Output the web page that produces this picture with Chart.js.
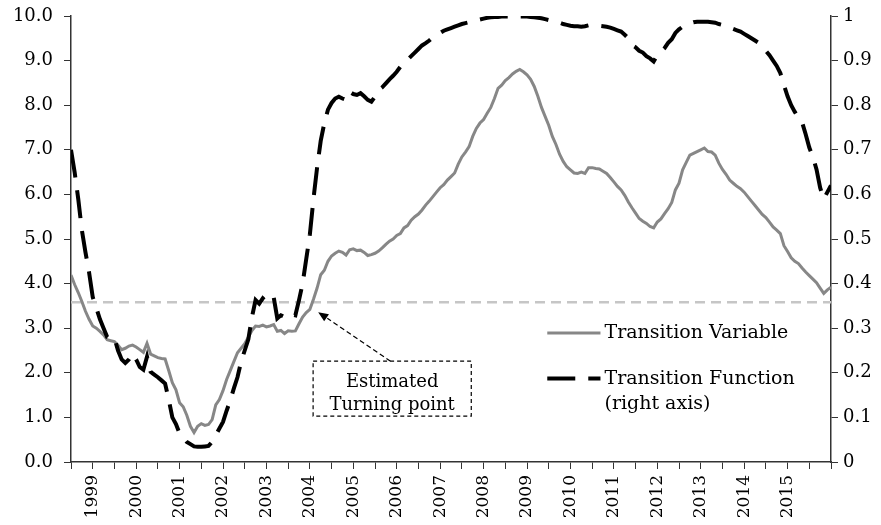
<!DOCTYPE html>
<html>
<head>
<meta charset="utf-8">
<script src="https://cdn.jsdelivr.net/npm/chart.js@4.4.1/dist/chart.umd.min.js"></script>
<style>
  html, body { margin: 0; padding: 0; background: #fff; }
  canvas { display: block; }
</style>
</head>
<body>
<canvas id="chart" width="881" height="525"></canvas>
<script>
// monthly observations, index 0 = mid-1998, last = end of 2015
const transitionVariable = [
  4.19, 3.98, 3.80, 3.60, 3.38, 3.20, 3.05, 3.00, 2.93, 2.85, 2.74, 2.72,
  2.70, 2.62, 2.52, 2.55, 2.60, 2.62, 2.58, 2.52, 2.46, 2.66, 2.42, 2.38,
  2.34, 2.32, 2.31, 2.05, 1.78, 1.62, 1.33, 1.24, 1.05, 0.80, 0.66, 0.80,
  0.86, 0.82, 0.84, 0.95, 1.28, 1.40, 1.60, 1.85, 2.05, 2.25, 2.45, 2.55,
  2.65, 2.80, 2.95, 3.05, 3.04, 3.07, 3.03, 3.05, 3.08, 2.93, 2.95, 2.88,
  2.94, 2.93, 2.94, 3.10, 3.25, 3.35, 3.42, 3.65, 3.90, 4.20, 4.30, 4.50,
  4.62, 4.68, 4.73, 4.70, 4.64, 4.76, 4.78, 4.74, 4.75, 4.70, 4.63, 4.65,
  4.68, 4.73, 4.80, 4.88, 4.95, 5.00, 5.08, 5.12, 5.25, 5.30, 5.42, 5.50,
  5.56, 5.65, 5.76, 5.85, 5.95, 6.05, 6.15, 6.22, 6.32, 6.40, 6.48, 6.68,
  6.84, 6.95, 7.07, 7.30, 7.48, 7.60, 7.68, 7.82, 7.95, 8.15, 8.38, 8.45,
  8.55, 8.62, 8.70, 8.76, 8.80, 8.75, 8.68, 8.58, 8.42, 8.20, 7.95, 7.75,
  7.55, 7.30, 7.12, 6.90, 6.74, 6.62, 6.55, 6.48, 6.47, 6.50, 6.47, 6.60,
  6.60, 6.58, 6.57, 6.52, 6.47, 6.38, 6.28, 6.18, 6.10, 5.98, 5.83, 5.70,
  5.58, 5.46, 5.40, 5.35, 5.28, 5.25, 5.38, 5.45, 5.57, 5.68, 5.82, 6.10,
  6.25, 6.55, 6.72, 6.88, 6.92, 6.96, 7.00, 7.04, 6.96, 6.95, 6.88, 6.70,
  6.56, 6.45, 6.32, 6.25, 6.18, 6.13, 6.05, 5.95, 5.85, 5.75, 5.65, 5.55,
  5.48, 5.38, 5.27, 5.20, 5.12, 4.85, 4.72, 4.58, 4.50, 4.45, 4.35, 4.26,
  4.18, 4.10, 4.02, 3.90, 3.78, 3.86, 3.92
];

const transitionFunction = [
  0.700, 0.650, 0.590, 0.520, 0.470, 0.425, 0.370, 0.345, 0.320, 0.300, 0.280, 0.275,
  0.278, 0.250, 0.230, 0.222, 0.230, 0.243, 0.230, 0.213, 0.207, 0.236, 0.202, 0.196,
  0.190, 0.183, 0.176, 0.140, 0.100, 0.085, 0.064, 0.055, 0.045, 0.040, 0.035, 0.034,
  0.034, 0.035, 0.036, 0.045, 0.060, 0.075, 0.090, 0.115, 0.138, 0.165, 0.190, 0.225,
  0.250, 0.275, 0.325, 0.363, 0.355, 0.367, 0.359, 0.362, 0.370, 0.322, 0.329, 0.325,
  0.333, 0.331, 0.329, 0.363, 0.400, 0.455, 0.510, 0.590, 0.660, 0.720, 0.760, 0.790,
  0.805, 0.815, 0.819, 0.815, 0.812, 0.830, 0.825, 0.823, 0.827, 0.820, 0.812, 0.808,
  0.819, 0.834, 0.840, 0.849, 0.858, 0.866, 0.875, 0.886, 0.894, 0.902, 0.910, 0.918,
  0.926, 0.934, 0.939, 0.945, 0.952, 0.957, 0.962, 0.967, 0.970, 0.973, 0.976, 0.979,
  0.982, 0.984, 0.986, 0.988, 0.990, 0.992, 0.994, 0.996, 0.997, 0.998, 0.998, 0.999,
  0.999, 0.999, 0.999, 0.999, 0.999, 0.999, 0.999, 0.998, 0.997, 0.996, 0.995, 0.993,
  0.991, 0.989, 0.987, 0.985, 0.982, 0.980, 0.978, 0.977, 0.977, 0.976, 0.977, 0.979,
  0.980, 0.979, 0.978, 0.977, 0.976, 0.974, 0.971, 0.968, 0.965, 0.958, 0.950, 0.935,
  0.930, 0.922, 0.918, 0.910, 0.905, 0.898, 0.912, 0.920, 0.928, 0.940, 0.948, 0.962,
  0.970, 0.976, 0.980, 0.983, 0.986, 0.987, 0.987, 0.987, 0.987, 0.986, 0.985, 0.982,
  0.980, 0.976, 0.974, 0.971, 0.968, 0.965, 0.960, 0.955, 0.950, 0.945, 0.940, 0.932,
  0.922, 0.912, 0.900, 0.888, 0.872, 0.845, 0.820, 0.800, 0.785, 0.772, 0.762, 0.735,
  0.705, 0.684, 0.656, 0.615, 0.590, 0.605, 0.620
];

const yearLabels = ['1999', '2000', '2001', '2002', '2003', '2004', '2005', '2006',
  '2007', '2008', '2009', '2010', '2011', '2012', '2013', '2014', '2015'];

const threshold = 3.58;

const FONT = 'DejaVu Serif';

function toPoints(arr) {
  return arr.map(function(v, i) { return { x: i, y: v }; });
}

// drop the label overhang padding so layout.padding decides the plot box
function noOverhang(s) {
  s.paddingTop = 0; s.paddingBottom = 0;
  s.paddingLeft = 0; s.paddingRight = 0;
}

const lastMonth = transitionVariable.length - 1;

// annotation + legend drawn on top of the plot
const notesPlugin = {
  id: 'notes',
  afterDatasetsDraw(chart) {
    const ctx = chart.ctx;
    const x = chart.scales.x, y = chart.scales.y;
    ctx.save();

    // dashed box with text
    const bx0 = x.getPixelForValue(66.9), bx1 = x.getPixelForValue(110.6);
    const by0 = y.getPixelForValue(2.26), by1 = y.getPixelForValue(1.03);
    ctx.strokeStyle = '#000';
    ctx.lineWidth = 1.2;
    ctx.setLineDash([4, 3]);
    ctx.strokeRect(bx0, by0, bx1 - bx0, by1 - by0);

    ctx.fillStyle = '#000';
    ctx.font = '18px "' + FONT + '"';
    ctx.textAlign = 'center';
    ctx.textBaseline = 'middle';
    const cx = (bx0 + bx1) / 2;
    ctx.fillText('Estimated', cx, by0 + 21);
    ctx.fillText('Turning point', cx, by0 + 44);

    // dashed arrow towards the turning point
    const tx = x.getPixelForValue(68.3), ty = y.getPixelForValue(3.36);
    const sx = x.getPixelForValue(88.3), sy = by0;
    const ang = Math.atan2(ty - sy, tx - sx);
    const headLen = 11;
    ctx.setLineDash([5, 3]);
    ctx.beginPath();
    ctx.moveTo(sx, sy);
    ctx.lineTo(tx - Math.cos(ang) * headLen, ty - Math.sin(ang) * headLen);
    ctx.stroke();
    ctx.setLineDash([]);
    ctx.beginPath();
    ctx.moveTo(tx, ty);
    ctx.lineTo(tx - headLen * Math.cos(ang - 0.4), ty - headLen * Math.sin(ang - 0.4));
    ctx.lineTo(tx - headLen * Math.cos(ang + 0.4), ty - headLen * Math.sin(ang + 0.4));
    ctx.closePath();
    ctx.fill();

    // legend
    const lx0 = x.getPixelForValue(131.6), lx1 = x.getPixelForValue(146.3);
    const ly1 = y.getPixelForValue(2.89), ly2 = y.getPixelForValue(1.87);
    ctx.font = '19px "' + FONT + '"';
    ctx.textAlign = 'left';
    ctx.lineCap = 'butt';

    ctx.strokeStyle = '#878787';
    ctx.lineWidth = 3;
    ctx.beginPath();
    ctx.moveTo(lx0, ly1); ctx.lineTo(lx1, ly1);
    ctx.stroke();
    ctx.fillText('Transition Variable', lx1 + 4, ly1);

    ctx.strokeStyle = '#000';
    ctx.lineWidth = 4;
    ctx.setLineDash([28, 13]);
    ctx.beginPath();
    ctx.moveTo(lx0, ly2); ctx.lineTo(lx1, ly2);
    ctx.stroke();
    ctx.setLineDash([]);
    ctx.fillText('Transition Function', lx1 + 4, ly2);
    ctx.fillText('(right axis)', lx1 + 4, ly2 + 25);

    ctx.restore();
  }
};

new Chart(document.getElementById('chart'), {
  type: 'line',
  data: {
    datasets: [
      {
        label: 'Transition Function (right axis)',
        data: toPoints(transitionFunction),
        yAxisID: 'y1',
        borderColor: '#000',
        borderWidth: 4,
        borderDash: [28, 13],
        pointRadius: 0,
        tension: 0,
        order: 0
      },
      {
        label: 'Transition Variable',
        data: toPoints(transitionVariable),
        yAxisID: 'y',
        borderColor: '#878787',
        borderWidth: 3,
        pointRadius: 0,
        tension: 0,
        order: 1
      },
      {
        label: 'threshold',
        data: [{ x: 0, y: threshold }, { x: lastMonth, y: threshold }],
        yAxisID: 'y',
        borderColor: '#c6c6c6',
        borderWidth: 2.5,
        borderDash: [10, 6],
        pointRadius: 0,
        order: 2
      }
    ]
  },
  options: {
    responsive: false,
    animation: false,
    devicePixelRatio: 1,
    layout: { padding: { top: 16, left: 0, right: 0, bottom: 0 } },
    plugins: { legend: { display: false }, tooltip: { enabled: false } },
    scales: {
      x: {
        type: 'linear',
        min: 0,
        max: lastMonth,
        ticks: {
          stepSize: 6,
          autoSkip: false,
          minRotation: 90,
          maxRotation: 90,
          padding: 6,
          color: '#000',
          font: { family: FONT, size: 17 },
          callback: function(v) {
            if ((v - 6) % 12 === 0) return yearLabels[(v - 6) / 12] || '';
            return '';
          }
        },
        grid: { drawOnChartArea: false, tickLength: 7, color: '#333', lineWidth: 1 },
        border: { color: '#333', width: 1.5 },
        afterFit: function(s) { noOverhang(s); s.height = 63; }
      },
      y: {
        position: 'left',
        min: 0,
        max: 10,
        ticks: {
          stepSize: 1,
          padding: 11,
          color: '#000',
          font: { family: FONT, size: 18 },
          callback: function(v) { return v.toFixed(1); }
        },
        grid: { drawOnChartArea: false, tickLength: 7, color: '#333' },
        border: { color: '#333', width: 1.5 },
        afterFit: function(s) { noOverhang(s); s.width = 71; }
      },
      y1: {
        position: 'right',
        min: 0,
        max: 1,
        ticks: {
          stepSize: 0.1,
          padding: 5,
          color: '#000',
          font: { family: FONT, size: 18 },
          callback: function(v) {
            if (v === 0) return '0';
            if (Math.abs(v - 1) < 1e-9) return '1';
            return v.toFixed(1);
          }
        },
        grid: { drawOnChartArea: false, tickLength: 7, color: '#333' },
        border: { color: '#333', width: 1.5 },
        afterFit: function(s) { noOverhang(s); s.width = 50; }
      }
    }
  },
  plugins: [notesPlugin]
});
</script>
</body>
</html>
